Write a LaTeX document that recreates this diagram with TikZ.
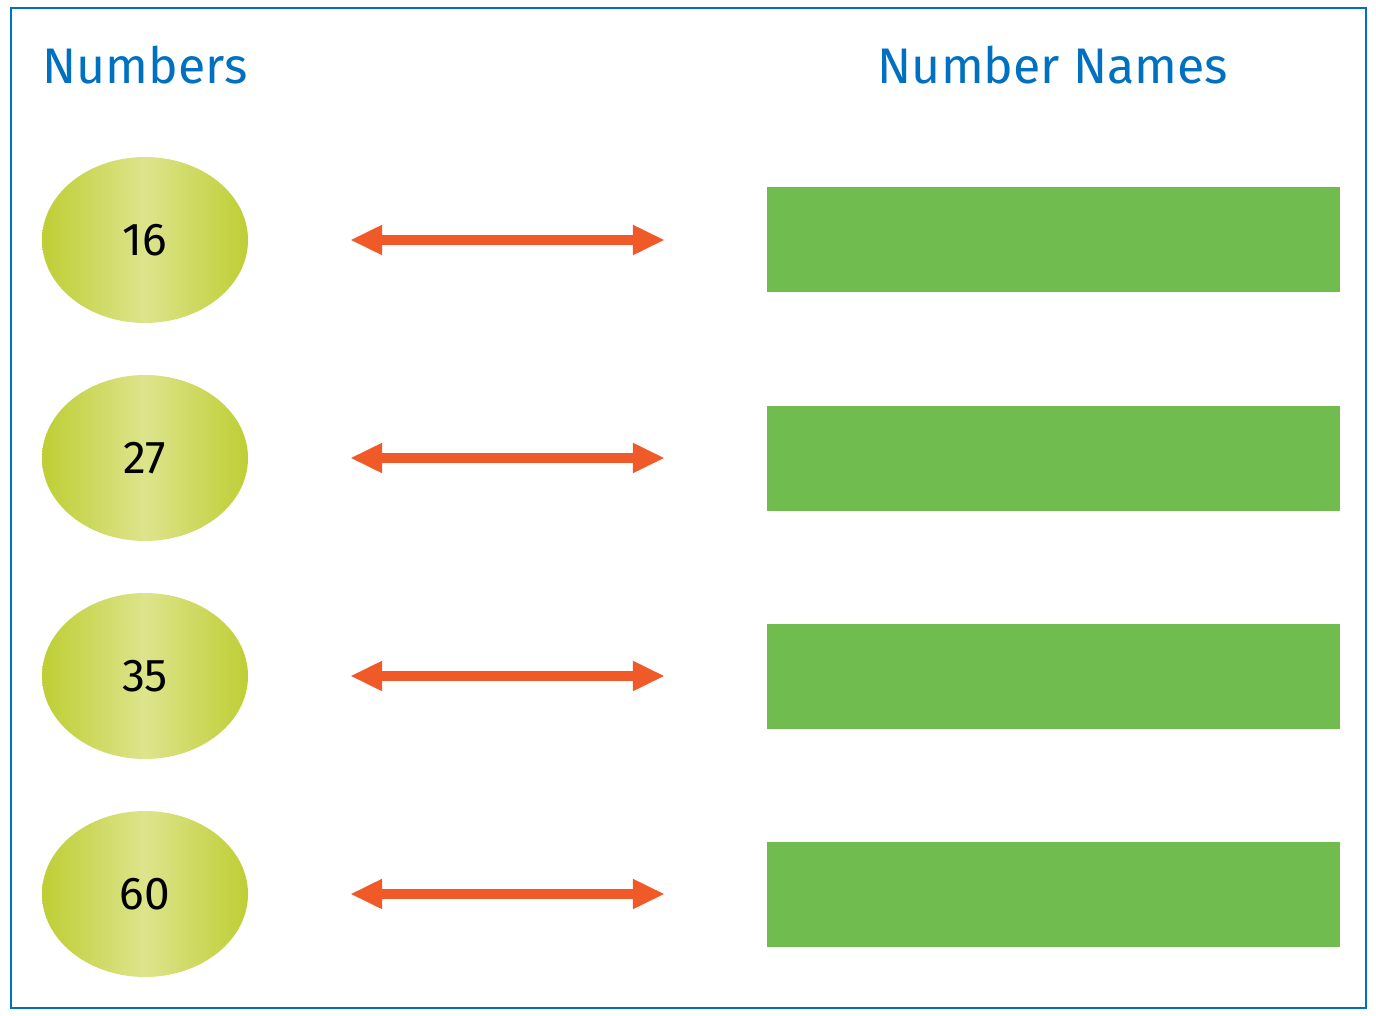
\documentclass[tikz,border=0pt]{standalone}
\usepackage{fontspec}
\setmainfont{Fira Sans}
\usetikzlibrary{arrows.meta}
\definecolor{tblue}{RGB}{0,112,192}
\definecolor{ygreen}{RGB}{190,206,52}
\definecolor{ylight}{RGB}{221,228,140}
\definecolor{gbox}{RGB}{112,188,78}
\definecolor{orng}{RGB}{240,90,40}
\tikzset{
 numell/.style={ellipse,minimum width=206pt,minimum height=166pt,inner sep=0pt,left color=ygreen,right color=ygreen,middle color=ylight,font=\fontsize{46}{46}\selectfont},
 namebox/.style={fill=gbox,minimum width=573pt,minimum height=105pt,inner sep=0pt},
 link/.style={orng,line width=10pt,{Triangle[length=32pt,width=28pt]}-{Triangle[length=32pt,width=28pt]},shorten <=102pt,shorten >=102pt},
 title/.style={text=tblue,font=\fontsize{50}{50}\selectfont}
}
\usetikzlibrary{shapes.geometric}
\begin{document}
\begin{tikzpicture}[x=1pt,y=-1pt]
\useasboundingbox (0,0) rectangle (1376,1016);
\draw[tblue,line width=1.5pt] (11,8) rectangle (1366,1008);
\node[title] (t1) at (145,65) {Numbers};
\node[title] (t2) at (1053,65) {Number Names};
\foreach \n/\v/\y in {1/16/240,2/27/458,3/35/676,4/60/894}{
 \node[numell] (e\n) at (145,\y) {\v};
 \node[namebox] (r\n) at (1053.5,\y) {};
 \draw[link] (e\n.east) -- (r\n.west);
}
\end{tikzpicture}
\end{document}
